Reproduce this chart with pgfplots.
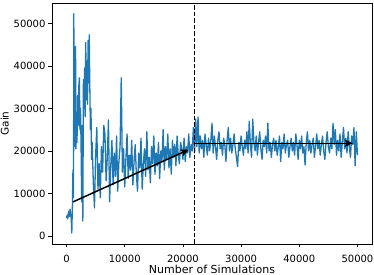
\documentclass[border=0pt]{standalone}
\usepackage{pgfplots}
\pgfplotsset{compat=1.18}
\usepackage{fontspec}
\setmainfont{DejaVu Sans}
\usetikzlibrary{arrows.meta}
\definecolor{mplblue}{HTML}{1F77B4}
\begin{document}
\begin{tikzpicture}
\begin{axis}[
  scale only axis,
  width=320pt, height=241pt,
  xmin=-2500, xmax=52500,
  ymin=-1900, ymax=54800,
  xtick={0,10000,20000,30000,40000,50000},
  ytick={0,10000,20000,30000,40000,50000},
  scaled ticks=false,
  /pgf/number format/.cd, fixed, 1000 sep={}, assume math mode=true,
  /pgfplots/.cd,
  tick align=outside,
  tick pos=left,
  major tick length=3.5pt,
  every tick/.style={black, line width=0.6pt},
  axis line style={black, line width=0.6pt},
  tick label style={font=\fontsize{10}{11}\selectfont},
  xticklabel style={yshift=-4pt},
  yticklabel style={xshift=0.5pt},
  xlabel style={font=\fontsize{11}{12}\selectfont, at={(axis description cs:0.5,0)}, anchor=north, inner sep=0pt, yshift=-20.5pt},
  ylabel style={font=\fontsize{10.5}{12}\selectfont, yshift=-2pt},
  xlabel={Number of Simulations},
  ylabel={Gain},
  clip=true,
]
\addplot[mplblue, line width=1.3pt, line join=round] coordinates {
(0,4200) (100,4900) (200,4000) (300,5300) (400,5800) (500,4600) (600,6300) (700,5200) (800,4300) (900,700)
(1000,6500) (1100,15500) (1200,9000) (1250,52300) (1300,21000) (1400,31000) (1500,24000) (1550,44600) (1600,20500) (1700,28000)
(1800,22000) (1900,33000) (2000,26000) (2100,35000) (2200,37200) (2300,25000) (2400,30000) (2500,21000) (2600,8000) (2700,26000)
(2800,3500) (2900,36800) (3000,30000) (3100,39500) (3200,28000) (3300,45500) (3400,32000) (3500,41000) (3600,31000) (3700,46000)
(3800,36000) (3900,47300) (4000,35000) (4100,25000) (4200,30000) (4300,18000)
(4400,22000) (4600,12500) (4800,6600) (5000,19000) (5200,25500) (5400,11000) (5600,17000) (5800,9000) (6000,21000) (6200,15000)
(6400,26000) (6600,24000) (6800,13000) (7000,18500) (7200,27300) (7400,8000) (7600,16500) (7800,22500) (8000,12000) (8200,19500)
(8400,14000) (8600,23500) (8800,10500) (9000,17500) (9200,21000) (9400,37200) (9600,15000) (9800,20500) (10000,11500) (10200,18000)
(10400,24000) (10600,13500) (10800,19000) (11000,15500) (11200,22500) (11400,12000) (11600,17500) (11800,21500) (12000,14500) (12200,10500)
(12400,19500) (12600,16000) (12800,23000) (13000,11000) (13200,17000) (13400,20500) (13600,14000) (13800,24500) (14000,15500) (14200,18500)
(14400,12500) (14600,21000) (14800,17000) (15000,23500) (15200,14500) (15400,19500) (15600,16500) (15800,22000) (16000,13500) (16200,20000)
(16400,17500) (16600,25000) (16800,15500) (17000,21000) (17200,18000) (17400,24000) (17600,16000) (17800,20500) (18000,14500) (18200,22500)
(18400,18500) (18600,21500) (18800,16500) (19000,23500) (19200,19000) (19400,17000) (19600,22000) (19800,20500) (20000,18000) (20200,23000)
(20400,17500) (20600,21000) (20800,19500) (21000,24000) (21200,18500) (21400,21500) (21600,20000) (21800,25500) (22000,19500) (22200,27500)
(22400,21000) (22600,28000) (22800,19500) (23000,23500) (23200,20500) (23400,22500) (23600,18500) (23800,24000) (24000,21500) (24200,19000)
(24400,23000) (24600,20000) (24800,22500) (25000,26500) (25200,19500) (25400,23500) (25600,21000) (25800,18000) (26000,22500) (26200,24500)
(26400,20500) (26600,22000) (26800,19000) (27000,23000) (27200,21500) (27400,17500) (27600,22500) (27800,25500) (28000,20000) (28200,23000)
(28400,19500) (28600,21500) (28800,24000) (29000,20500) (29200,18500) (29400,16300) (29600,22000) (29800,20000) (30000,23500) (30200,21000)
(30400,19000) (30600,22500) (30800,20500) (31000,24500) (31200,19500) (31400,27000) (31600,21500) (31800,18500) (32000,27500) (32200,22000)
(32400,20000) (32600,23500) (32800,19000) (33000,22000) (33200,24500) (33400,20500) (33600,18000) (33800,22500) (34000,21000) (34200,23500)
(34400,19500) (34600,26500) (34800,20000) (35000,22000) (35200,18500) (35400,21500) (35600,23000) (35800,20000) (36000,22500) (36200,19000)
(36400,21000) (36600,23500) (36800,17500) (37000,22000) (37200,20500) (37400,24000) (37600,19500) (37800,21500) (38000,22500) (38200,18500)
(38400,21000) (38600,23000) (38800,20000) (39000,22000) (39200,19000) (39400,24000) (39600,21500) (39800,18000) (40000,22500) (40200,20500)
(40400,23500) (40600,19500) (40800,21000) (41000,16700) (41200,22000) (41400,24500) (41600,20000) (41800,22500) (42000,19500) (42200,21500)
(42400,23000) (42600,18500) (42800,21000) (43000,24000) (43200,20500) (43400,22500) (43600,19000) (43800,21500) (44000,23500) (44200,20000)
(44400,18000) (44600,22000) (44800,24500) (45000,21000) (45200,19500) (45400,23000) (45600,20500) (45800,26500) (46000,21500) (46200,25000)
(46400,19000) (46600,22500) (46800,20000) (47000,24000) (47200,18500) (47400,22000) (47600,25500) (47800,20500) (48000,23000) (48200,19500)
(48400,24500) (48600,21000) (48800,18500) (49000,23500) (49200,21500) (49400,25500) (49600,16500) (49800,24500) (50000,19000)
};
\addplot[black, line width=1.2pt, dash pattern=on 4.5pt off 2pt] coordinates {(22000,-1900) (22000,54800)};
\addplot[black, line width=1.5pt, -{Stealth[length=8pt,width=7pt,inset=2pt]}] coordinates {(1100,8000) (21000,20300)};
\addplot[black, line width=1.5pt, -{Stealth[length=8pt,width=7pt,inset=2pt]}] coordinates {(22000,21800) (49200,21800)};
\end{axis}
\pgfresetboundingbox
\path (-52pt,-31pt) rectangle (322pt,244pt);
\end{tikzpicture}
\end{document}
